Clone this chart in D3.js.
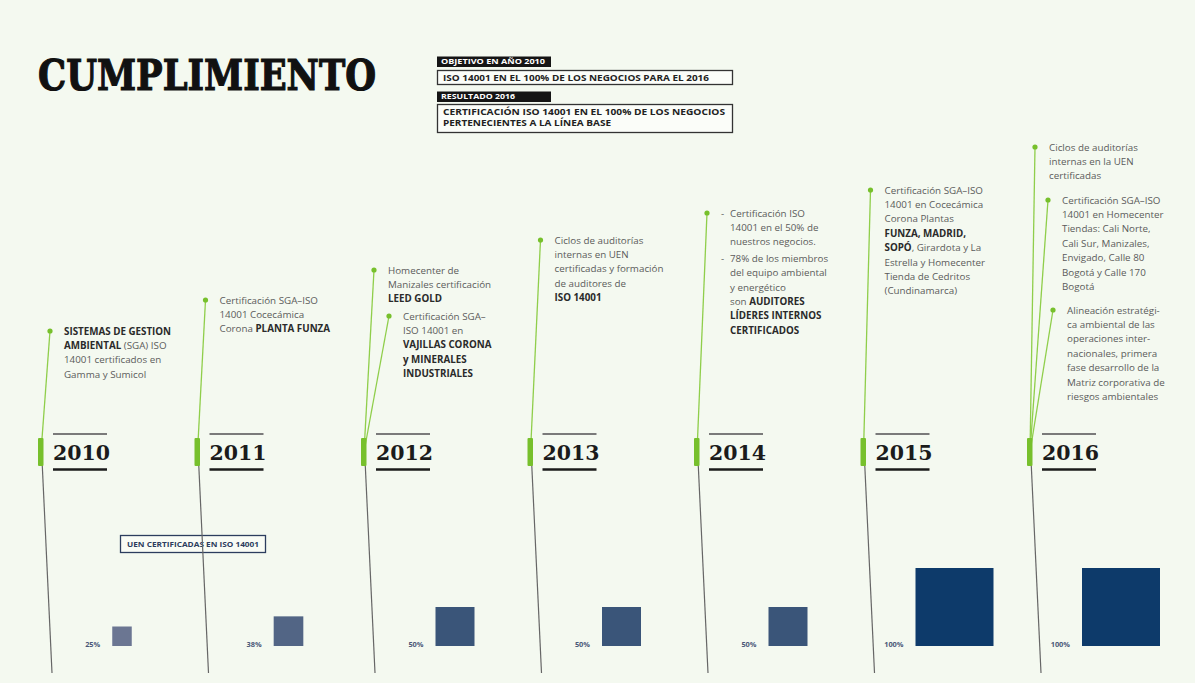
<!DOCTYPE html>
<html>
<head>
<meta charset="utf-8">
<script src="https://cdn.jsdelivr.net/npm/d3@7"></script>
<style>
  html, body { margin: 0; padding: 0; background: #f4f9f0; }
  svg { display: block; }
</style>
</head>
<body>
<svg id="chart" width="1195" height="683"></svg>
<script>
// ---- data ----
const years = [2010, 2011, 2012, 2013, 2014, 2015, 2016];
const certifiedShare = [25, 38, 50, 50, 50, 100, 100];
const shareLabels = ["25%", "38%", "50%", "50%", "50%", "100%", "100%"];

const milestones2010 = [
  ["**SISTEMAS DE GESTION**", "**AMBIENTAL** (SGA) ISO", "14001 certificados en", "Gamma y Sumicol"]
];
const milestones2011 = [
  ["Certificación SGA–ISO", "14001 Cocecámica", "Corona **PLANTA FUNZA**"]
];
const milestones2012 = [
  ["Homecenter de", "Manizales certificación", "**LEED GOLD**"],
  ["Certificación SGA–", "ISO 14001 en", "**VAJILLAS CORONA**", "**y MINERALES**", "**INDUSTRIALES**"]
];
const milestones2013 = [
  ["Ciclos de auditorías", "internas en UEN", "certificadas y formación", "de auditores de", "**ISO 14001**"]
];
const milestones2014 = [
  ["- Certificación ISO", "14001 en el 50% de", "nuestros negocios.", "- 78% de los miembros", "del equipo ambiental", "y energético", "son **AUDITORES**", "**LÍDERES INTERNOS**", "**CERTIFICADOS**"]
];
const milestones2015 = [
  ["Certificación SGA–ISO", "14001 en Cocecámica", "Corona Plantas", "**FUNZA, MADRID,**", "**SOPÓ**, Girardota y La", "Estrella y Homecenter", "Tienda de Cedritos", "(Cundinamarca)"]
];
const milestones2016 = [
  ["Ciclos de auditorías", "internas en la UEN", "certificadas"],
  ["Certificación SGA–ISO", "14001 en Homecenter", "Tiendas: Cali Norte,", "Cali Sur, Manizales,", "Envigado, Calle 80", "Bogotá y Calle 170", "Bogotá"],
  ["Alineación estratégi-", "ca ambiental de las", "operaciones inter-", "nacionales, primera", "fase desarrollo de la", "Matriz corporativa de", "riesgos ambientales"]
];
const milestones = [milestones2010, milestones2011, milestones2012, milestones2013,
                    milestones2014, milestones2015, milestones2016];

const goalLabel = "OBJETIVO EN AÑO 2010";
const goalText = ["ISO 14001 EN EL 100% DE LOS NEGOCIOS PARA EL 2016"];
const resultLabel = "RESULTADO 2016";
const resultText = ["CERTIFICACIÓN ISO 14001 EN EL 100% DE LOS NEGOCIOS", "PERTENECIENTES A LA LÍNEA BASE"];
const barsCaption = "UEN CERTIFICADAS EN ISO 14001";

// ---- layout ----
const W = 1195, H = 683;
const svg = d3.select("#chart");
svg.append("rect").attr("width", W).attr("height", H).attr("fill", "#f4f9f0");

const col = d3.scaleLinear().domain([0, years.length - 1]).range([30, 1029]);
const firstColumnShift = 10;              // the first year sits slightly right of the grid
const markerX = i => col(i) + (i === 0 ? firstColumnShift : 0);
const side = d3.scaleLinear().domain([0, 100]).range([0, 78]);
const barColor = d3.scaleLinear().domain([25, 50, 100]).range(["#6b7692", "#3a5579", "#0d3a6a"]);

const markerTop = 438, markerBottom = 466, lineBottom = 673, barBase = 646;
const lineH = 14.4;

// where each text block of a year is anchored (dot offset, first line y)
const anchors = [
  [{ dot: 10, y: 331 }],
  [{ dot: 9, y: 300 }],
  [{ dot: 11, y: 270 }, { dot: 26, y: 316 }],
  [{ dot: 11, y: 240 }],
  [{ dot: 11, y: 213 }],
  [{ dot: 8, y: 190 }],
  [{ dot: 6, y: 147 }, { dot: 19, y: 200 }, { dot: 24, y: 310 }]
];

const green = "#8fce4a", greenDark = "#77c02c";
const bodyFont = "'Open Sans', 'Noto Sans', sans-serif";

// ---- title ----
svg.append("text")
  .attr("x", 38).attr("y", 90)
  .attr("font-family", "'DejaVu Serif', serif")
  .attr("font-weight", 900)
  .attr("font-size", 43)
  .attr("textLength", 338)
  .attr("lengthAdjust", "spacingAndGlyphs")
  .attr("fill", "#111")
  .style("paint-order", "stroke").attr("stroke", "#111").attr("stroke-width", 1.2)
  .text("CUMPLIMIENTO");

// ---- goal / result boxes ----
function labelTag(y, txt, len) {
  svg.append("rect").attr("x", 437).attr("y", y).attr("width", 114).attr("height", 10.5).attr("fill", "#151515");
  svg.append("text").attr("x", 441).attr("y", y + 7.8)
    .attr("font-family", bodyFont).attr("font-weight", 700).attr("font-size", 6.4)
    .attr("textLength", len).attr("lengthAdjust", "spacingAndGlyphs")
    .attr("fill", "#fff").text(txt);
}
function framedBox(y, h, lines, lens) {
  svg.append("rect").attr("x", 437.5).attr("y", y).attr("width", 295).attr("height", h)
    .attr("fill", "#fbfdf9").attr("stroke", "#333").attr("stroke-width", 1.3);
  svg.selectAll(null).data(lines).join("text")
    .attr("x", 443).attr("y", (d, k) => y + 10.4 + k * 11)
    .attr("font-family", bodyFont).attr("font-weight", 700).attr("font-size", 8.2)
    .attr("textLength", (d, k) => lens[k]).attr("lengthAdjust", "spacingAndGlyphs")
    .attr("fill", "#222").text(d => d);
}
labelTag(56.5, goalLabel, 104);
framedBox(70.5, 14, goalText, [266]);
labelTag(91.5, resultLabel, 74);
framedBox(104.5, 28, resultText, [282, 168]);

// ---- caption box for the squares ----
svg.append("rect").attr("x", 120.5).attr("y", 535.5).attr("width", 145).attr("height", 17)
  .attr("fill", "#fbfdf9").attr("fill-opacity", 0.6).attr("stroke", "#2c3d5e").attr("stroke-width", 1.3);
svg.append("text").attr("x", 127).attr("y", 546.8)
  .attr("font-family", bodyFont).attr("font-weight", 700).attr("font-size", 6.8)
  .attr("textLength", 132).attr("lengthAdjust", "spacingAndGlyphs")
  .attr("fill", "#2c3d5e").text(barsCaption);

// ---- squares (share of certified units) ----
const bars = svg.append("g");
bars.selectAll("rect").data(certifiedShare).join("rect")
  .attr("x", (d, i) => col(i) + 92 - side(d) / 2)
  .attr("y", d => barBase - side(d))
  .attr("width", d => side(d))
  .attr("height", d => side(d))
  .attr("fill", d => barColor(d));
bars.selectAll("text").data(shareLabels).join("text")
  .attr("x", (d, i) => col(i) + 92 - side(certifiedShare[i]) / 2 - 12)
  .attr("y", barBase + 0.5)
  .attr("text-anchor", "end")
  .attr("font-family", bodyFont).attr("font-weight", 700).attr("font-size", 7.4)
  .attr("fill", "#4a5878").text(d => d);

// ---- rich text helper ----
function richLine(sel, str) {
  const parts = str.split("**");
  parts.forEach((p, k) => {
    if (!p) return;
    sel.append("tspan")
      .attr("font-weight", k % 2 ? 700 : 400)
      .attr("fill", k % 2 ? "#2a2a2a" : "#5b5b5b")
      .text(p);
  });
}

// ---- timeline columns ----
years.forEach((yr, i) => {
  const mx = markerX(i);
  const g = svg.append("g");

  // stem from the marker down to the base
  g.append("line")
    .attr("x1", mx + 1).attr("y1", markerTop)
    .attr("x2", mx + 12).attr("y2", lineBottom)
    .attr("stroke", "#666").attr("stroke-width", 1.2);

  // green leaders up to each milestone
  anchors[i].forEach(a => {
    g.append("line")
      .attr("x1", mx + 1).attr("y1", (markerTop + markerBottom) / 2)
      .attr("x2", mx + a.dot).attr("y2", a.y)
      .attr("stroke", green).attr("stroke-width", 1.3);
    g.append("circle").attr("cx", mx + a.dot).attr("cy", a.y).attr("r", 2.6).attr("fill", greenDark);
  });

  // marker
  g.append("rect").attr("x", mx - 2).attr("y", markerTop).attr("width", 5.5)
    .attr("height", markerBottom - markerTop).attr("rx", 1).attr("fill", greenDark);

  // year heading with rules
  const yx = mx + 13;
  g.append("line").attr("x1", yx).attr("x2", yx + 54).attr("y1", 434).attr("y2", 434)
    .attr("stroke", "#7a7a7a").attr("stroke-width", 1.8);
  g.append("text").attr("x", yx).attr("y", 460)
    .attr("font-family", "'DejaVu Serif', serif").attr("font-weight", 700).attr("font-size", 20.5)
    .attr("fill", "#1b1b1b").text(yr);
  g.append("line").attr("x1", yx).attr("x2", yx + 54).attr("y1", 469.5).attr("y2", 469.5)
    .attr("stroke", "#1b1b1b").attr("stroke-width", 2.6);

  // milestone texts
  milestones[i].forEach((block, b) => {
    const a = anchors[i][b];
    const tx = mx + a.dot + 14;
    let extra = 0;
    block.forEach((ln, k) => {
      const isBullet = ln.startsWith("- ");
      if (isBullet && k > 0) extra += 2;
      const y = a.y + 3.5 + k * lineH + extra;
      if (isBullet) {
        g.append("text").attr("x", tx).attr("y", y)
          .attr("font-family", bodyFont).attr("font-size", 9.8).attr("fill", "#5b5b5b").text("-");
      }
      const t = g.append("text")
        .attr("x", tx + (block[0].startsWith("- ") ? 9 : 0)).attr("y", y)
        .attr("font-family", bodyFont).attr("font-size", 9.8);
      richLine(t, isBullet ? ln.slice(2) : ln);
    });
  });
});
</script>
</body>
</html>
